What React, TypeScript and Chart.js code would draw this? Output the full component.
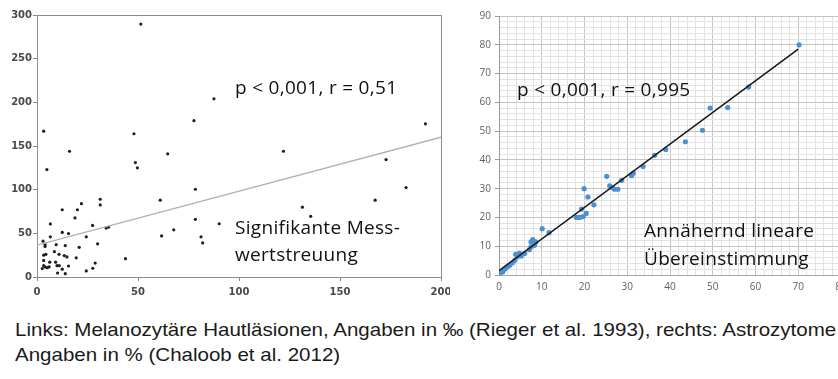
import React, { useEffect, useRef } from 'react';
import { Chart, registerables } from 'chart.js';

Chart.register(...registerables);

// ---------- Left chart: melanocytic skin lesions (Rieger et al. 1993) ----------
const leftX = [51.4, 3.3, 4.9, 16.1, 48, 48.7, 49.7, 64.7, 61, 61.7, 67.7, 77.7, 87.6, 78.4, 78.4, 81.2, 82, 90.2,
  122, 131.4, 135.5, 167.4, 172.8, 182.7, 192.3, 43.8, 31.3, 31.3, 22, 20, 18.8, 12.5, 6.6, 27.5, 6.6, 12.5, 15.6,
  24.4, 20.9, 30, 34.2, 35.4, 3, 4, 4, 9.5, 14, 8.6, 10.9, 13.5, 14.8, 3.3, 4.4, 19.4, 9.2, 9.9, 11, 15.6, 6.3, 3.3,
  4, 6, 2.6, 5, 12.5, 10.2, 14, 24.4, 27.6, 28.8, 3.3];
const leftY = [289.6, 167, 123, 144, 164, 131, 125, 141, 88, 47, 54, 179, 204, 100.5, 66, 46, 39, 61,
  144, 80, 69.5, 88, 134.5, 102.4, 175.4, 21, 89, 82.5, 84, 77, 67.6, 77, 60.8, 59, 46, 51, 49.7,
  46, 34, 38, 56, 57, 41, 37, 35, 37, 36, 29, 26, 24.5, 23, 25, 26, 22, 17, 13, 13, 12.6, 17, 13,
  11.5, 11.5, 9.6, 10.7, 9, 4.6, 3.8, 7, 10, 16, 19];
const leftTrendX = [0, 200];
const leftTrendY = [36.5, 160];
const leftXRange = [0, 200, 50];
const leftYRange = [0, 300, 50];

// ---------- Right chart: astrocytomas (Chaloob et al. 2012) ----------
const rightX = [0, 0.2, 0.5, 0.9, 1.3, 1.7, 2.1, 2.5, 3.1, 3.7, 3.9, 4.3, 4.8, 5.2, 6.0, 7.1, 7.5, 7.5, 7.9, 8.3, 8.6,
  10.1, 11.7, 18.1, 18.9, 19.3, 19.7, 20.4, 19.9, 20.8, 22.2, 25.2, 25.9, 26.5, 27.0, 27.8, 28.7, 31.0, 31.4, 33.7,
  36.4, 39.0, 43.6, 47.6, 49.4, 53.5, 58.4, 70.2];
const rightY = [0, 0.5, 1.0, 1.1, 2.0, 2.6, 3.0, 3.4, 4.2, 5.1, 7.2, 6.3, 7.6, 6.6, 7.5, 8.8, 11.5, 9.8, 12.3, 10.3, 11.5,
  16.1, 14.7, 20.0, 20.0, 22.9, 20.3, 21.4, 30.0, 27.1, 24.4, 34.3, 31.0, 30.4, 29.8, 29.8, 32.9, 34.5, 35.4, 37.7,
  41.6, 43.6, 46.3, 50.3, 58.0, 58.2, 65.3, 80.0];
const rightTrendX = [0, 70];
const rightTrendY = [1.5, 78.5];
const rightXRange = [0, 80, 2];
const rightYRange = [0, 90, 2];
const rightMajorStep = 10;

// ---------- Texts ----------
const leftStat = 'p < 0,001, r = 0,51';
const leftNote = ['Signifikante Mess-', 'wertstreuung'];
const rightStat = 'p < 0,001, r = 0,995';
const rightNote = ['Annähernd lineare', 'Übereinstimmung'];
const captionLines = [
  'Links: Melanozytäre Hautläsionen, Angaben in ‰ (Rieger et al. 1993), rechts: Astrozytome',
  'Angaben in % (Chaloob et al. 2012)',
];

const toPoints = (xs: number[], ys: number[]) => xs.map((x, i) => ({ x, y: ys[i] }));

const framePlugin = {
  id: 'frame',
  beforeDatasetsDraw(chart: any) {
    const { ctx, chartArea } = chart;
    const { left, top, right, bottom } = chartArea;
    ctx.save();
    ctx.strokeStyle = '#8c8c8c';
    ctx.lineWidth = 1;
    ctx.strokeRect(Math.round(left) + 0.5, Math.round(top) + 0.5, Math.round(right - left), Math.round(bottom - top));
    ctx.restore();
  },
};

function noPad(scale: any) {
  scale.paddingLeft = 0;
  scale.paddingRight = 0;
  scale.paddingTop = 0;
  scale.paddingBottom = 0;
}

function leftConfig(): any {
  return {
    type: 'scatter',
    data: {
      datasets: [
        {
          data: toPoints(leftTrendX, leftTrendY),
          showLine: true,
          borderColor: '#b2b2b2',
          borderWidth: 1.4,
          pointRadius: 0,
          fill: false,
        },
        {
          data: toPoints(leftX, leftY),
          pointRadius: 1.6,
          pointBackgroundColor: '#1e1e1e',
          pointBorderWidth: 0,
        },
      ],
    },
    options: {
      animation: false,
      responsive: false,
      devicePixelRatio: 1,
      layout: { padding: { top: 15, right: 9, left: 0, bottom: 0 } },
      plugins: { legend: { display: false }, tooltip: { enabled: false } },
      scales: {
        x: {
          type: 'linear',
          min: leftXRange[0],
          max: leftXRange[1],
          ticks: {
            stepSize: leftXRange[2],
            color: '#4a4a4a',
            font: { family: 'DejaVu Sans', weight: 'bold', size: 10 },
            padding: 5,
            maxRotation: 0,
            autoSkip: false,
          },
          grid: { drawOnChartArea: false, drawTicks: true, tickLength: 4, tickColor: '#888' },
          border: { display: false },
          afterFit: (s: any) => { s.height = 23; noPad(s); },
        },
        y: {
          type: 'linear',
          min: leftYRange[0],
          max: leftYRange[1],
          ticks: {
            stepSize: leftYRange[2],
            color: '#4a4a4a',
            font: { family: 'DejaVu Sans', weight: 'bold', size: 10 },
            padding: 1,
            autoSkip: false,
          },
          grid: { drawOnChartArea: false, drawTicks: true, tickLength: 4, tickColor: '#888' },
          border: { display: false },
          afterFit: (s: any) => { s.width = 37; noPad(s); },
        },
      },
    },
    plugins: [framePlugin],
  };
}

function rightConfig(): any {
  const isMajor = (v: number) => Math.abs(v % rightMajorStep) < 1e-6;
  const gridColor = (c: any) => (c.tick && isMajor(c.tick.value) ? '#c4c4c4' : '#e3e3e3');
  const tickFont = { family: 'Open Sans', size: 10 };
  return {
    type: 'scatter',
    data: {
      datasets: [
        {
          data: toPoints(rightTrendX, rightTrendY),
          showLine: true,
          borderColor: '#1a1a1a',
          borderWidth: 1.6,
          pointRadius: 0,
          fill: false,
        },
        {
          data: toPoints(rightX, rightY),
          pointRadius: 2.6,
          pointBackgroundColor: '#4d8fd3',
          pointBorderWidth: 0,
        },
      ],
    },
    options: {
      animation: false,
      responsive: false,
      devicePixelRatio: 1,
      layout: { padding: { top: 16, right: 9, left: 0, bottom: 0 } },
      plugins: { legend: { display: false }, tooltip: { enabled: false } },
      scales: {
        x: {
          type: 'linear',
          min: rightXRange[0],
          max: rightXRange[1],
          ticks: {
            stepSize: rightXRange[2],
            color: '#606060',
            font: tickFont,
            padding: 6,
            maxRotation: 0,
            autoSkip: false,
            callback: (v: number) => (isMajor(v) ? String(v) : ''),
          },
          grid: { color: gridColor, drawTicks: false, lineWidth: 1 },
          border: { display: true, color: '#a6a6a6' },
          afterFit: (s: any) => { s.height = 25; noPad(s); },
        },
        y: {
          type: 'linear',
          min: rightYRange[0],
          max: rightYRange[1],
          ticks: {
            stepSize: rightYRange[2],
            color: '#606060',
            font: tickFont,
            padding: 4,
            autoSkip: false,
            callback: (v: number) => (isMajor(v) ? String(v) : ''),
          },
          grid: {
            color: gridColor,
            drawTicks: true,
            tickLength: 4,
            tickColor: (c: any) => (c.tick && isMajor(c.tick.value) ? '#9a9a9a' : 'rgba(0,0,0,0)'),
          },
          border: { display: true, color: '#9a9a9a' },
          afterFit: (s: any) => { s.width = 49; noPad(s); },
        },
      },
    },
  };
}

function ChartCanvas({ config, width, height, style }: { config: () => any; width: number; height: number; style: React.CSSProperties }) {
  const ref = useRef<HTMLCanvasElement | null>(null);
  useEffect(() => {
    if (!ref.current) return;
    const chart = new Chart(ref.current, config());
    return () => chart.destroy();
  }, [config]);
  return <canvas ref={ref} width={width} height={height} style={{ position: 'absolute', display: 'block', width, height, ...style }} />;
}

const noteFont: React.CSSProperties = {
  position: 'absolute',
  fontFamily: '"Open Sans", sans-serif',
  fontSize: 19,
  color: '#111',
  whiteSpace: 'nowrap',
  letterSpacing: 0.3,
};

export default function App() {
  useEffect(() => {
    document.body.style.margin = '0';
  }, []);
  return (
    <div style={{ position: 'absolute', left: 0, top: 0, width: 838, height: 379, overflow: 'hidden', background: '#fff' }}>
      <ChartCanvas config={leftConfig} width={450} height={300} style={{ left: 0, top: 0 }} />
      <ChartCanvas config={rightConfig} width={400} height={300} style={{ left: 450, top: 0 }} />

      <div style={{ ...noteFont, left: 235, top: 78, lineHeight: '19px' }}>{leftStat}</div>
      <div style={{ ...noteFont, left: 235, top: 214, lineHeight: '27px' }}>
        {leftNote.map((t, i) => <div key={i}>{t}</div>)}
      </div>
      <div style={{ ...noteFont, left: 517, top: 80, lineHeight: '19px' }}>{rightStat}</div>
      <div style={{ ...noteFont, left: 644, top: 216, lineHeight: '28px' }}>
        {rightNote.map((t, i) => <div key={i}>{t}</div>)}
      </div>

      <div
        style={{
          position: 'absolute',
          left: 15,
          top: 317,
          fontFamily: '"Liberation Sans", Arial, sans-serif',
          fontSize: 19,
          lineHeight: '25px',
          color: '#1a1a1a',
          whiteSpace: 'nowrap',
          transform: 'scaleX(1.08)',
          transformOrigin: 'left top',
        }}
      >
        {captionLines.map((t, i) => <div key={i}>{t}</div>)}
      </div>
    </div>
  );
}
